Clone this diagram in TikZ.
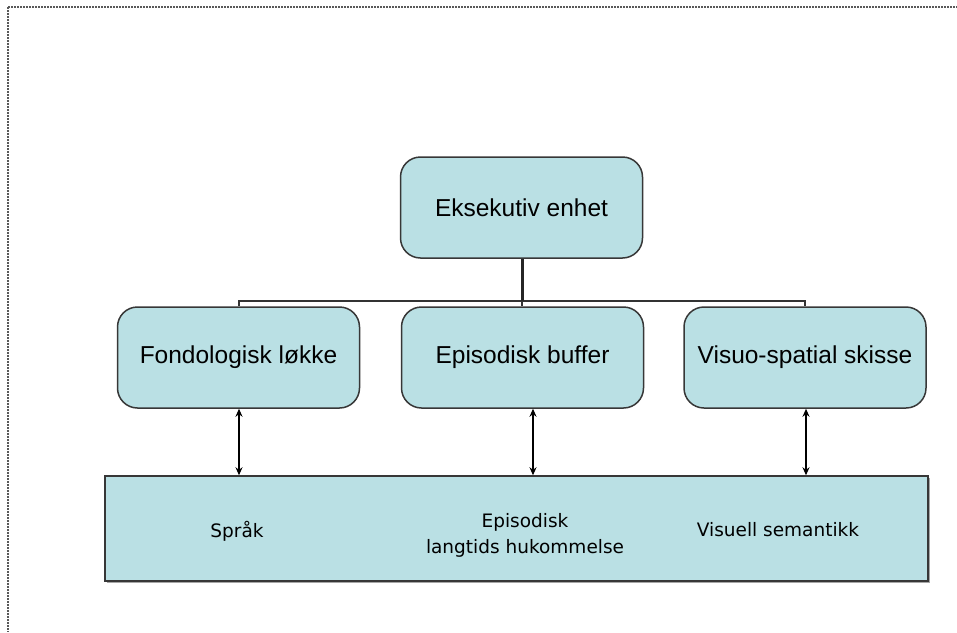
\documentclass[tikz,border=0pt]{standalone}
\usepackage{fontspec}
\setmainfont{Liberation Sans}
\newfontfamily\boxfont{Liberation Sans}
\newfontfamily\lowfont{DejaVu Sans}
\usetikzlibrary{arrows.meta}
\definecolor{boxfill}{RGB}{186,224,228}
\definecolor{boxedge}{RGB}{55,55,55}
\tikzset{
  rbox/.style={draw=boxedge, line width=1.5pt, fill=boxfill, rounded corners=20pt,
    minimum width=242pt, minimum height=101pt, inner sep=0pt,
    font=\boxfont\fontsize{24.5}{28}\selectfont},
  lowtext/.style={font=\lowfont\fontsize{18.5}{26}\selectfont, align=center, inner sep=0pt},
  link/.style={draw=black!80, line width=2pt},
  biarrow/.style={draw=black, line width=2.3pt, {Stealth[length=8pt,width=7pt]}-{Stealth[length=8pt,width=7pt]}},
  frame/.style={draw=black!65, line width=1.4pt, dash pattern=on 1.6pt off 1.4pt}
}
\begin{document}
\begin{tikzpicture}[x=1pt,y=-1pt]
\useasboundingbox (0,0) rectangle (957,632);
% dotted frame
\coordinate (ftl) at (8,7);
\coordinate (ftr) at (957,7);
\coordinate (fbl) at (8,632);
\draw[frame] (ftl) -- (ftr);
\draw[frame] (ftl) -- (fbl);
% bottom rectangle
\fill[black!35] (107,478) rectangle (930,583);
\node[draw=boxedge, line width=1.5pt, fill=boxfill, minimum width=823pt, minimum height=105pt, inner sep=0pt] (ltm) at (516.5,528.5) {};
% boxes
\node[rbox] (exe) at (521.5,207.5) {Eksekutiv enhet};
\node[rbox] (fon) at (238.5,357.5) {Fondologisk løkke};
\node[rbox] (epi) at (522.5,357.5) {Episodisk buffer};
\node[rbox] (vis) at (805,357.5) {Visuo-spatial skisse};
% bottom labels
\node[lowtext] (sprak) at (237,531) {Språk};
\node[lowtext] (epil) at (525,535) {Episodisk\\langtids hukommelse};
\node[lowtext] (visl) at (778,530) {Visuell semantikk};
% org connectors
\coordinate (hl) at (239,301);
\coordinate (hr) at (805,301);
\coordinate (hm) at (522,301);
\draw[link] (fon.north -| hl) -- (hl) -- (hr) -- (vis.north -| hr);
\draw[draw=black!85, line width=3pt] (exe.south -| hm) -- (hm);
\draw[link] (hm) -- (epi.north -| hm);
% arrows
\draw[biarrow] ([xshift=0.5pt]fon.south) -- ([xshift=0.5pt]fon.south |- ltm.north);
\draw[biarrow] ([xshift=10.5pt]epi.south) -- ([xshift=10.5pt]epi.south |- ltm.north);
\draw[biarrow] ([xshift=1pt]vis.south) -- ([xshift=1pt]vis.south |- ltm.north);
\end{tikzpicture}
\end{document}
